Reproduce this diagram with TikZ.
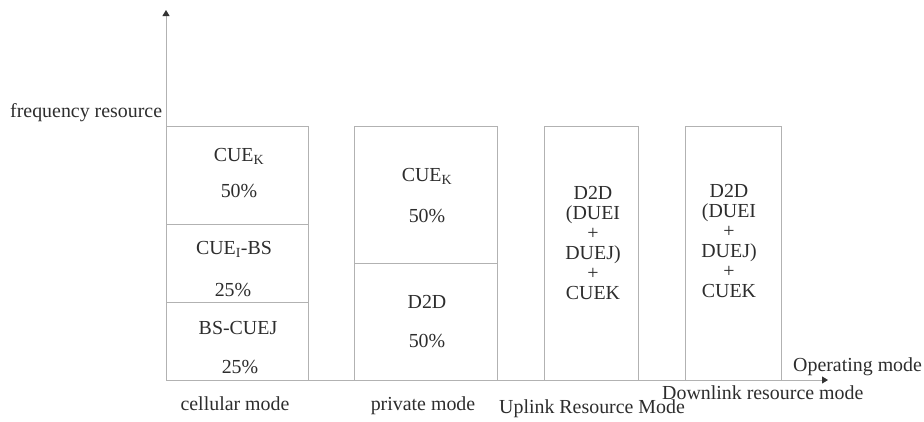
\documentclass[tikz,border=0pt]{standalone}
\usepackage{fontspec}
\setmainfont{Liberation Serif}
\usetikzlibrary{arrows.meta}
\definecolor{linegray}{RGB}{178,178,178}
\definecolor{txt}{RGB}{45,45,45}
\begin{document}
\begin{tikzpicture}[x=1pt,y=-1pt,
  box/.style={draw=linegray, line width=1pt},
  axis/.style={draw=linegray, line width=1pt, -{Triangle[color=black!80,length=6pt,width=7pt]}},
  lbl/.style={text=txt, font=\fontsize{19.9}{20}\selectfont, inner sep=0pt, anchor=base},
  stack/.style={text=txt, font=\fontsize{19.9}{20}\selectfont, inner sep=0pt, align=center}]
\useasboundingbox (0,0) rectangle (924,421);
% axes
\coordinate (O) at (166,380);
\coordinate (ytop) at (166,10);
\coordinate (xend) at (828,380);
\draw[axis] (O) -- (ytop);
\draw[axis] (O) -- (xend);
% boxes
\draw[box] (166,126) rectangle (308,380);
\draw[box] (166,224) -- (308,224);
\draw[box] (166,302) -- (308,302);
\draw[box] (354,126) rectangle (497,380);
\draw[box] (354,263) -- (497,263);
\draw[box] (544,126) rectangle (638,380);
\draw[box] (685,126) rectangle (781,380);
% cellular mode box texts
\node[lbl] (c1) at (239,161) {CUE\textsubscript{K}};
\node[lbl] (c2) at (239,197) {50\%};
\node[lbl] (c3) at (234,254) {CUE\textsubscript{I}-BS};
\node[lbl] (c4) at (233,296) {25\%};
\node[lbl] (c5) at (238,334) {BS-CUEJ};
\node[lbl] (c6) at (240,373) {25\%};
% private mode box texts
\node[lbl] (p1) at (427,181) {CUE\textsubscript{K}};
\node[lbl] (p2) at (427,222) {50\%};
\node[lbl] (p3) at (427,308) {D2D};
\node[lbl] (p4) at (427,347) {50\%};
% uplink / downlink texts
\node[stack] (u1) at (593,243) {D2D\\(DUEI\\+\\DUEJ)\\+\\CUEK};
\node[stack] (d1) at (729,241) {D2D\\(DUEI\\+\\DUEJ)\\+\\CUEK};
% axis labels
\node[lbl, anchor=base west] (fr) at (10,117) {frequency resource};
\node[lbl, anchor=base west] (om) at (793,371) {Operating mode};
\node[lbl, anchor=base west] (dm) at (662,399) {Downlink resource mode};
\node[lbl, anchor=base west] (um) at (499,413) {Uplink Resource Mode};
\node[lbl] (cm) at (235,410) {cellular mode};
\node[lbl] (pm) at (423,410) {private mode};
\end{tikzpicture}
\end{document}
